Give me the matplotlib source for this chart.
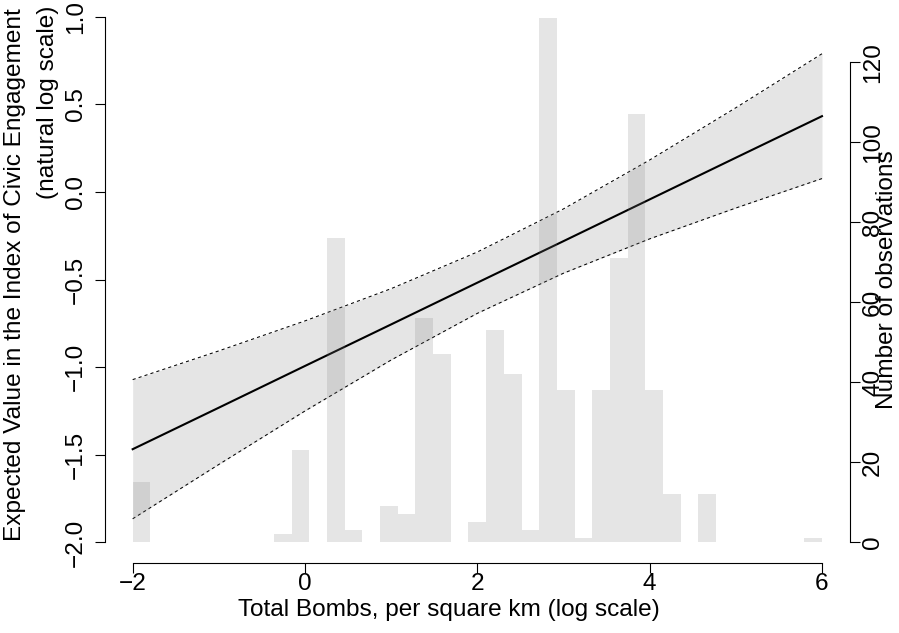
import numpy as np
import matplotlib
matplotlib.use("Agg")
import matplotlib.pyplot as plt

plt.rcParams["font.family"] = ["Liberation Sans", "DejaVu Sans"]

# ── Data ───────────────────────────────────────────────────────────────────────
# predicted value and 95% band, read off at whole x values
fit_x     = [-2, -1, 0, 1, 2, 3, 4, 5, 6]
fit_mean  = [-1.468, -1.231, -0.993, -0.756, -0.518, -0.281, -0.043, 0.195, 0.432]
fit_upper = [-1.071, -0.907, -0.736, -0.552, -0.343, -0.097, 0.182, 0.480, 0.788]
fit_lower = [-1.865, -1.555, -1.250, -0.959, -0.693, -0.464, -0.268, -0.092, 0.076]

# histogram of observations (39 equal bins between -2 and 6)
hist_lo, hist_hi = -2.0, 6.0
hist_counts = [15, 0, 0, 0, 0, 0, 0, 0, 2, 23,
               0, 76, 3, 0, 9, 7, 56, 47, 0, 5,
               53, 42, 3, 131, 38, 1, 38, 71, 107, 38,
               12, 0, 12, 0, 0, 0, 0, 0, 1]

x_ticks = [-2, 0, 2, 4, 6]
y_ticks = [-2.0, -1.5, -1.0, -0.5, 0.0, 0.5, 1.0]
n_ticks = [0, 20, 40, 60, 80, 100, 120]

FONT = 17.6
SHADE = (0.5, 0.5, 0.5, 0.2)

# ── Figure ─────────────────────────────────────────────────────────────────────
fig = plt.figure(figsize=(8.99, 6.33), dpi=100)
ax = fig.add_axes([0.1169, 0.1098, 0.8281, 0.8902])
ax.patch.set_visible(False)

ax.fill_between(fit_x, fit_lower, fit_upper, color=SHADE, linewidth=0)
ax.plot(fit_x, fit_mean, color="black", linewidth=1.5)
ax.plot(fit_x, fit_upper, color="black", linewidth=0.75, linestyle=(0, (3, 3)))
ax.plot(fit_x, fit_lower, color="black", linewidth=0.75, linestyle=(0, (3, 3)))

ax.set_xlim(-2.32, 6.32)
ax.set_ylim(-2.12, 1.0947)

# ── Histogram on the secondary axis ───────────────────────────────────────────
ax2 = ax.twinx()
edges = np.linspace(hist_lo, hist_hi, len(hist_counts) + 1)
ax2.bar(edges[:-1], hist_counts, width=np.diff(edges), align="edge",
        color=SHADE, linewidth=0)
ax2.set_ylim(-5.25, 135.6)

# ── Axes styling (R base look) ─────────────────────────────────────────────────
for a in (ax, ax2):
    for s in a.spines.values():
        s.set_visible(False)
        s.set_linewidth(0.8)

ax.spines["bottom"].set_visible(True)
ax.spines["bottom"].set_bounds(-2, 6)
ax.spines["left"].set_visible(True)
ax.spines["left"].set_bounds(-2.0, 1.0)
ax2.spines["right"].set_visible(True)
ax2.spines["right"].set_bounds(0, 120)

ax.set_xticks(x_ticks)
ax.set_xticklabels([f"{v}".replace("-", "\u2212") for v in x_ticks], fontsize=FONT)
ax.set_yticks(y_ticks)
ax.set_yticklabels([f"{v:.1f}".replace("-", "\u2212") for v in y_ticks],
                   fontsize=FONT, rotation=90, va="center")
ax2.set_yticks(n_ticks)
ax2.set_yticklabels([str(v) for v in n_ticks], fontsize=FONT, rotation=90, va="center")

ax.tick_params(axis="x", length=7, width=0.8, pad=0)
ax.tick_params(axis="y", length=7, width=0.8, pad=6)
ax2.tick_params(axis="y", length=7, width=0.8, pad=2)

# ── Labels ─────────────────────────────────────────────────────────────────────
fig.text(449 / 899, 1 - 610 / 633, "Total Bombs, per square km (log scale)",
         ha="center", va="center", fontsize=FONT)
fig.text(15 / 899, 1 - 275 / 633, "Expected Value in the Index of Civic Engagement",
         ha="center", va="center", rotation=90, fontsize=FONT)
# second line sits right-justified at the top of the plot region
fig.text(48 / 899, 1 - 6 / 633, "(natural log scale)",
         ha="center", va="top", rotation=90, fontsize=FONT)
fig.text(887 / 899, 1 - 280 / 633, "Number of observations",
         ha="center", va="center", rotation=90, fontsize=FONT)

fig.savefig("out.png", dpi=100, facecolor="white")
